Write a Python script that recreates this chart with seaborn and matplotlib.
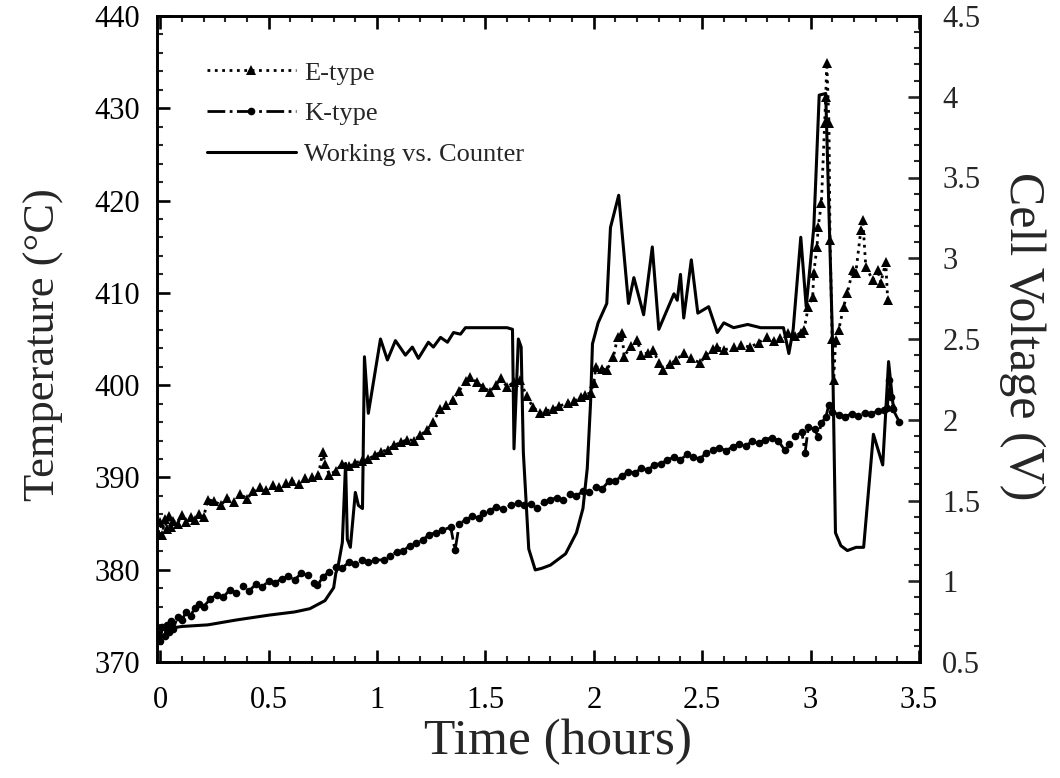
import numpy as np
import pandas as pd
import matplotlib
matplotlib.use("Agg")
import matplotlib.pyplot as plt
from matplotlib.ticker import MultipleLocator, FixedLocator, FixedFormatter
import seaborn as sns

# ---------------- data ----------------
E_TIME = [-0.01, 0.00, 0.01, 0.02, 0.03, 0.04, 0.05, 0.06, 0.08, 0.10, 0.12, 0.14, 0.16, 0.18, 0.20,
          0.22, 0.25, 0.28, 0.31, 0.34, 0.37, 0.40, 0.43, 0.46, 0.49, 0.52, 0.55, 0.58, 0.61, 0.64,
          0.67, 0.70, 0.73, 0.75, 0.76, 0.78, 0.81, 0.84, 0.87, 0.90, 0.93, 0.96, 0.99, 1.02, 1.05,
          1.08, 1.11, 1.14, 1.17, 1.20, 1.23, 1.26, 1.29, 1.32, 1.35, 1.38, 1.41, 1.43, 1.46, 1.49,
          1.52, 1.55, 1.57, 1.60, 1.63, 1.66, 1.69, 1.72, 1.75, 1.78, 1.81, 1.84, 1.88, 1.91, 1.94,
          1.96, 1.985, 2.00, 2.01, 2.04, 2.06, 2.09, 2.11, 2.13, 2.14, 2.17, 2.20, 2.22, 2.25, 2.275,
          2.30, 2.32, 2.35, 2.38, 2.415, 2.45, 2.49, 2.52, 2.55, 2.57, 2.60, 2.645, 2.68, 2.72, 2.76,
          2.80, 2.83, 2.86, 2.895, 2.93, 2.955, 2.97, 2.99, 3.01, 3.015, 3.03, 3.035, 3.05, 3.065,
          3.07, 3.075, 3.085, 3.09, 3.10, 3.107, 3.116, 3.13, 3.153, 3.17, 3.195, 3.209, 3.232, 3.241,
          3.255, 3.287, 3.31, 3.324, 3.347, 3.356]
E_TEMP = [384.0, 385.2, 383.8, 385.5, 384.4, 385.8, 384.6, 385.3, 385.0, 385.9, 385.2, 385.7, 385.4, 386.0, 385.7,
          387.6, 387.4, 387.0, 387.8, 387.3, 388.2, 387.7, 388.5, 389.0, 388.6, 389.2, 389.0, 389.4, 389.6, 389.3,
          389.9, 390.0, 390.3, 392.8, 391.5, 390.3, 390.7, 391.5, 391.2, 391.6, 391.8, 392.0, 392.4, 392.8, 393.0,
          393.5, 393.8, 394.1, 394.0, 394.6, 395.1, 396.0, 397.4, 397.8, 398.4, 399.4, 400.5, 400.9, 400.3, 399.8,
          399.3, 400.0, 400.8, 399.8, 400.3, 400.6, 398.8, 397.6, 397.0, 397.2, 397.4, 397.7, 398.1, 398.3, 398.7,
          398.9, 399.2, 400.2, 402.0, 401.8, 401.6, 403.0, 405.2, 405.7, 403.1, 404.2, 404.9, 403.3, 403.5, 403.8,
          402.4, 401.6, 402.3, 402.7, 403.5, 402.9, 402.4, 403.3, 403.9, 404.1, 403.8, 404.1, 404.4, 404.1, 404.6,
          405.2, 404.8, 405.1, 405.7, 405.3, 405.7, 406.0, 408.5, 409.6, 412.2, 415.0, 417.1, 419.7, 428.4,
          431.2, 434.9, 428.4, 415.7, 405.0, 400.6, 404.9, 406.0, 408.5, 410.0, 412.5, 412.2, 416.8, 417.9,
          412.8, 411.4, 412.5, 411.1, 413.3, 409.2]

K_TIME = [-0.01, 0.00, 0.01, 0.02, 0.03, 0.04, 0.05, 0.06, 0.08, 0.10, 0.12, 0.14, 0.16, 0.18, 0.20,
          0.23, 0.26, 0.29, 0.32, 0.35, 0.38, 0.41, 0.44, 0.47, 0.50, 0.53, 0.56, 0.59, 0.62, 0.65,
          0.68, 0.71, 0.725, 0.75, 0.78, 0.81, 0.84, 0.87, 0.90, 0.93, 0.96, 0.99, 1.03, 1.06, 1.09,
          1.12, 1.15, 1.18, 1.21, 1.24, 1.27, 1.30, 1.34, 1.36, 1.38, 1.41, 1.44, 1.47, 1.49, 1.52,
          1.55, 1.58, 1.62, 1.65, 1.68, 1.71, 1.74, 1.77, 1.80, 1.83, 1.86, 1.89, 1.92, 1.95, 1.98,
          2.01, 2.04, 2.07, 2.10, 2.13, 2.16, 2.19, 2.22, 2.25, 2.28, 2.31, 2.34, 2.37, 2.40, 2.43,
          2.46, 2.49, 2.52, 2.55, 2.58, 2.61, 2.64, 2.67, 2.70, 2.73, 2.76, 2.79, 2.82, 2.85, 2.88,
          2.90, 2.93, 2.96, 2.975, 2.99, 3.02, 3.035, 3.05, 3.07, 3.085, 3.10, 3.13, 3.16, 3.19, 3.22,
          3.25, 3.28, 3.31, 3.34, 3.355, 3.362, 3.372, 3.38, 3.41]
K_TEMP = [373.0, 372.3, 373.8, 372.8, 374.0, 373.2, 374.4, 373.6, 374.9, 374.6, 375.4, 375.0, 375.9, 376.3, 376.0,
          376.8, 377.3, 377.0, 377.8, 377.5, 378.2, 377.7, 378.4, 378.1, 378.8, 378.6, 379.0, 379.3, 378.9, 379.6,
          379.4, 378.6, 378.3, 379.2, 379.8, 380.3, 380.2, 380.8, 380.6, 381.0, 380.8, 381.0, 381.1, 381.5, 381.9,
          382.0, 382.6, 382.9, 383.2, 383.8, 384.0, 384.3, 384.6, 382.1, 385.0, 385.4, 385.8, 385.6, 386.1, 386.4,
          386.8, 386.6, 387.0, 387.2, 387.0, 387.1, 386.7, 387.3, 387.6, 387.8, 387.6, 388.2, 388.0, 388.5, 388.4,
          389.0, 388.8, 389.6, 389.6, 390.2, 390.6, 390.5, 391.0, 390.8, 391.4, 391.5, 391.9, 392.2, 391.9, 392.5,
          392.2, 392.0, 392.7, 393.0, 393.2, 392.9, 393.3, 393.6, 393.4, 393.9, 393.7, 394.1, 394.3, 394.0, 393.0,
          393.6, 394.5, 394.9, 392.7, 395.5, 395.2, 394.4, 395.9, 396.5, 397.9, 397.1, 396.8, 396.6, 396.9, 396.7,
          397.0, 396.9, 397.2, 397.3, 397.5, 400.6, 398.7, 397.4, 396.0]

WC_TIME = [0.00, 0.05, 0.10, 0.22, 0.35, 0.50, 0.62, 0.69, 0.76, 0.80, 0.81, 0.82, 0.84, 0.855, 0.863,
           0.877, 0.90, 0.914, 0.933, 0.942, 0.96, 1.016, 1.048, 1.085, 1.131, 1.163, 1.191, 1.237, 1.26,
           1.293, 1.325, 1.353, 1.385, 1.408, 1.50, 1.60, 1.625, 1.632, 1.652, 1.665, 1.675, 1.70, 1.73,
           1.76, 1.80, 1.87, 1.92, 1.95, 1.97, 1.985, 1.994, 2.02, 2.06, 2.077, 2.115, 2.16, 2.185, 2.23,
           2.27, 2.30, 2.37, 2.385, 2.40, 2.415, 2.45, 2.48, 2.53, 2.57, 2.60, 2.645, 2.71, 2.77, 2.875,
           2.90, 2.92, 2.955, 2.98, 3.015, 3.024, 3.04, 3.07, 3.10, 3.115, 3.14, 3.17, 3.21, 3.245,
           3.29, 3.333, 3.36, 3.38, 3.393]
WC_VOLT = [0.70, 0.71, 0.72, 0.73, 0.76, 0.79, 0.81, 0.83, 0.88, 0.96, 1.05, 1.09, 1.24, 1.73, 1.26,
           1.21, 1.55, 1.47, 1.45, 2.39, 2.04, 2.50, 2.37, 2.49, 2.40, 2.45, 2.38, 2.48, 2.45,
           2.51, 2.48, 2.54, 2.53, 2.57, 2.57, 2.57, 2.56, 1.82, 2.50, 2.45, 1.80, 1.20, 1.07,
           1.08, 1.10, 1.17, 1.30, 1.45, 1.70, 2.10, 2.47, 2.60, 2.72, 3.19, 3.39, 2.72, 2.88, 2.65,
           3.07, 2.56, 2.78, 2.74, 2.90, 2.63, 2.99, 2.66, 2.70, 2.54, 2.60, 2.57, 2.59, 2.57, 2.57,
           2.41, 2.56, 3.13, 2.70, 3.19, 3.48, 4.01, 4.02, 2.56, 1.30, 1.22, 1.19, 1.21, 1.21,
           1.91, 1.72, 2.36, 2.10, 2.06]

X_TICKS = [0, 0.5, 1, 1.5, 2, 2.5, 3, 3.5]
X_TICK_LABELS = ["0", "0.5", "1", "1.5", "2", "2.5", "3", "3.5"]
T_TICKS = [370, 380, 390, 400, 410, 420, 430, 440]
V_TICKS = [0.5, 1, 1.5, 2, 2.5, 3, 3.5, 4, 4.5]
V_TICK_LABELS = ["0.5", "1", "1.5", "2", "2.5", "3", "3.5", "4", "4.5"]

e_df = pd.DataFrame({"time": E_TIME, "temp": E_TEMP})
k_df = pd.DataFrame({"time": K_TIME, "temp": K_TEMP})
wc_df = pd.DataFrame({"time": WC_TIME, "volt": WC_VOLT})

# ---------------- style ----------------
sns.set_theme(style="ticks")
plt.rcParams["font.family"] = ["Liberation Serif", "DejaVu Serif"]
plt.rcParams["axes.linewidth"] = 1.9

fig = plt.figure(figsize=(10.6, 7.78), dpi=100)
ax = fig.add_axes([157 / 1060, 1 - 662 / 778, (920 - 157) / 1060, (662 - 16) / 778])
ax2 = ax.twinx()

lw = 2.0
sns.lineplot(data=e_df, x="time", y="temp", ax=ax, sort=False, estimator=None,
             color="black", linestyle=":", linewidth=lw, marker="^", markersize=6.5,
             markeredgewidth=0, label="E-type", legend=False)
sns.lineplot(data=k_df, x="time", y="temp", ax=ax, sort=False, estimator=None,
             color="black", linestyle="-.", linewidth=lw, marker="o", markersize=5.5,
             markeredgewidth=0, label="K-type", legend=False)
sns.lineplot(data=wc_df, x="time", y="volt", ax=ax2, sort=False, estimator=None,
             color="black", linestyle="-", linewidth=2.2, label="Working vs. Counter", legend=False)

ax.set_xlim(-0.015, 3.505)
ax.set_ylim(370, 440)
ax2.set_ylim(0.5, 4.5)

ax.xaxis.set_major_locator(FixedLocator(X_TICKS))
ax.xaxis.set_major_formatter(FixedFormatter(X_TICK_LABELS))
ax.xaxis.set_minor_locator(MultipleLocator(0.1))
ax.yaxis.set_major_locator(FixedLocator(T_TICKS))
ax.yaxis.set_minor_locator(MultipleLocator(2))
ax2.yaxis.set_major_locator(FixedLocator(V_TICKS))
ax2.yaxis.set_major_formatter(FixedFormatter(V_TICK_LABELS))
ax2.yaxis.set_minor_locator(MultipleLocator(0.1))

tick_fs = 22
ax.tick_params(axis="both", which="major", direction="in", length=9, width=1.9,
               labelsize=tick_fs, top=True, right=False, colors="black")
ax.tick_params(axis="both", which="minor", direction="in", length=4.5, width=1.5,
               top=True, right=False)
ax.tick_params(axis="y", which="major", pad=12)
ax.tick_params(axis="x", which="major", pad=17)
ax2.tick_params(axis="y", which="major", direction="in", length=9, width=1.9,
                labelsize=tick_fs, pad=16)
ax2.tick_params(axis="y", which="minor", direction="in", length=4.5, width=1.5)

for a in (ax, ax2):
    for s in a.spines.values():
        s.set_visible(True)
        s.set_linewidth(1.9)
        s.set_color("black")

ax.set_xlabel("")
ax.set_ylabel("")
ax2.set_ylabel("")
fig.text(44 / 1060, 1 - 345 / 778, "Temperature (°C)", rotation=90, ha="center", va="center",
         fontsize=32)
fig.text(1022 / 1060, 1 - 336 / 778, "Cell Voltage (V)", rotation=270, ha="center", va="center",
         fontsize=36)
fig.text(558 / 1060, 1 - 742 / 778, "Time (hours)", ha="center", va="center", fontsize=37)

handles = ax.get_lines()[:2] + ax2.get_lines()[:1]
labels = ["E-type", "K-type", "Working vs. Counter"]
leg = ax.legend(handles, labels, loc="upper left", bbox_to_anchor=(0.065, 0.93),
                frameon=False, fontsize=19, handlelength=3.4, handletextpad=0.3,
                labelspacing=0.65, numpoints=1, borderaxespad=0.0, borderpad=0.0)

fig.savefig("out.png", dpi=100)
